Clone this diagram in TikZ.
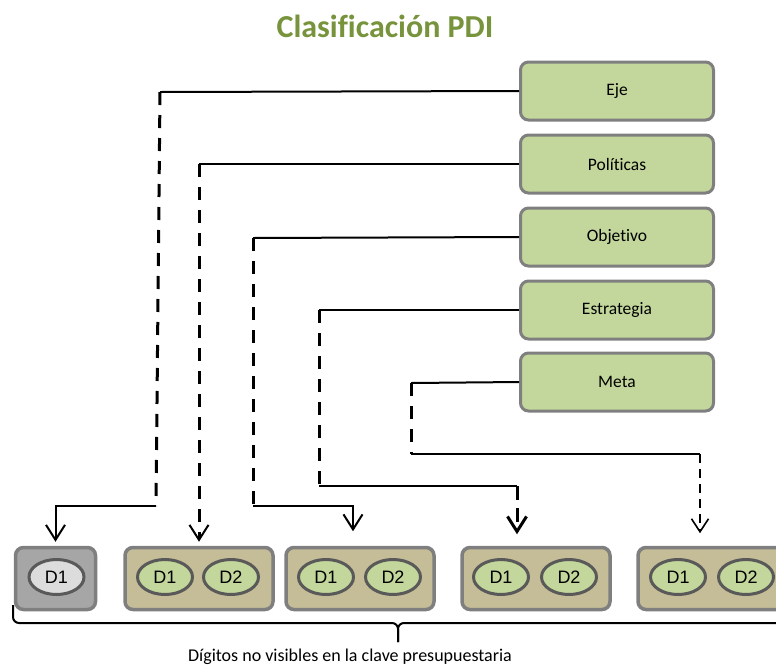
\documentclass[tikz,border=0pt]{standalone}
\usepackage{fontspec}
\setmainfont{Carlito}[Ligatures=NoCommon]
\newfontfamily\digitfont{Liberation Sans}
\usetikzlibrary{arrows.meta,shapes.geometric}

\definecolor{titlegreen}{HTML}{77933C}
\definecolor{boxgreen}{HTML}{C3D69B}
\definecolor{boxborder}{HTML}{7F7F7F}
\definecolor{groupfill}{HTML}{C4BD97}
\definecolor{ovalborder}{HTML}{595959}
\definecolor{greyfill}{HTML}{A6A6A6}
\definecolor{lightoval}{HTML}{DCDCDC}

\tikzset{
  level/.style={draw=boxborder, fill=boxgreen, line width=3pt, rounded corners=8pt,
    minimum width=193pt, minimum height=58pt, inner sep=0pt,
    font=\fontsize{17.5}{20}\selectfont},
  group/.style={draw=boxborder, fill=groupfill, line width=3.5pt, rounded corners=8pt,
    minimum width=148pt, minimum height=62pt, inner sep=0pt},
  greygroup/.style={group, fill=greyfill, minimum width=80pt},
  digit/.style={ellipse, draw=ovalborder, fill=boxgreen, line width=3pt,
    minimum width=55pt, minimum height=35pt, inner sep=0pt,
    font=\digitfont\fontsize{18}{18}\selectfont},
  greydigit/.style={digit, fill=lightoval},
  link/.style={line width=2pt},
  dashlink/.style={line width=3pt, dash pattern=on 13pt off 10pt},
  thindash/.style={line width=2pt, dash pattern=on 9pt off 6pt},
  tip/.style={-{Straight Barb[length=15pt,width=19pt,line width=2pt]}},
  smalltip/.style={-{Straight Barb[length=13pt,width=17pt,line width=1.6pt]}}
}

\begin{document}
\begin{tikzpicture}[x=1pt,y=-1pt]
\useasboundingbox (0,0) rectangle (776,665);
\clip (0,0) rectangle (776,665);

% title
\node[anchor=base, font=\bfseries\fontsize{32}{36}\selectfont, text=titlegreen]
  (title) at (385,37) {Clasificación PDI};

% hierarchy levels
\node[level] (eje) at (617,91)  {Eje};
\node[level] (pol) at (617,164) {Políticas};
\node[level] (obj) at (617,237) {Objetivo};
\node[level] (est) at (617,310) {Estrategia};
\node[level] (met) at (617,382) {Meta};

% digit groups
\node[greygroup] (b1) at (55.5,578.5) {};
\node[greydigit] (b1d1) at (56.5,577) {D1};

\node[group] (b2) at (199,578.5) {};
\node[digit] (b2d1) at (165,577) {D1};
\node[digit] (b2d2) at (231,577) {D2};

\node[group] (b3) at (360,578.5) {};
\node[digit] (b3d1) at (326,577) {D1};
\node[digit] (b3d2) at (393,577) {D2};

\node[group] (b4) at (536,578.5) {};
\node[digit] (b4d1) at (501,577) {D1};
\node[digit] (b4d2) at (569,577) {D2};

\node[group] (b5) at (712,578.5) {};
\node[digit] (b5d1) at (678,577) {D1};
\node[digit] (b5d2) at (746,577) {D2};

% bend points of the connectors
\coordinate (e1) at (160,92);
\coordinate (e2) at (156,506);
\coordinate (p1) at (199,164);
\coordinate (o1) at (253,238);
\coordinate (o2) at (253,506);
\coordinate (s1) at (319,310);
\coordinate (s2) at (319,486);
\coordinate (s3) at (517,486);
\coordinate (m1) at (411,383);
\coordinate (m2) at (411,454);
\coordinate (m3) at (700,454);

% Eje -> first group
\draw[link] (eje.west) -- (e1);
\draw[dashlink] (e1) -- (e2);
\draw[link,tip] (e2) -| ([yshift=4pt]b1.north);

% Políticas -> second group
\draw[link] (pol.west) -- (p1);
\draw[dashlink,tip] (p1) -- ([yshift=4pt]b2.north);

% Objetivo -> third group
\draw[link] (obj.west) -- (o1);
\draw[dashlink] (o1) -- (o2);
\draw[link,tip] (o2) -| ([xshift=-7pt,yshift=14.5pt]b3.north);

% Estrategia -> fourth group
\draw[link] (est.west) -- (s1);
\draw[dashlink] (s1) -- (s2);
\draw[link] (s2) -- (s3);
\draw[line width=3pt, dash pattern=on 14pt off 8pt,
      -{Straight Barb[length=15pt,width=19pt,line width=3pt]}]
  (s3) -- ([xshift=-19pt,yshift=11.5pt]b4.north);

% Meta -> fifth group
\draw[link] (met.west) -- (m1);
\draw[dashlink] (m1) -- (m2);
\draw[link] (m2) -- (m3);
\draw[thindash,smalltip] (m3) -- ([xshift=-12pt,yshift=12.5pt]b5.north);

% bracket under the groups
\draw[line width=2pt, rounded corners=6pt] (13,605) -- (13,623) -- (398,623) -- (398,642);
\draw[line width=2pt, rounded corners=6pt] (398,642) -- (398,623) -- (800,623);

\node[anchor=base, font=\fontsize{18}{20}\selectfont] (note) at (350,661)
  {Dígitos no visibles en la clave presupuestaria};
\end{tikzpicture}
\end{document}
